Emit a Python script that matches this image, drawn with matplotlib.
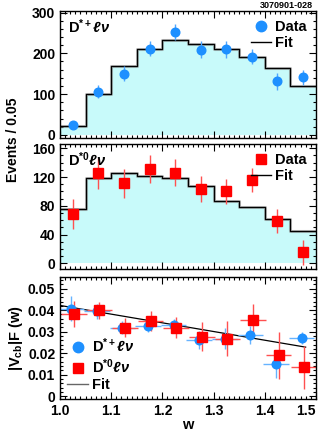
"""
B -> D* l nu yields and |Vcb|F(w) vs w
"""
import numpy as np
import matplotlib
matplotlib.use('Agg')
import matplotlib.pyplot as plt
from matplotlib.ticker import MultipleLocator
from matplotlib.lines import Line2D

plt.rcParams['font.family'] = ['Liberation Sans', 'DejaVu Sans']
plt.rcParams['font.weight'] = 'bold'
plt.rcParams['mathtext.fontset'] = 'custom'
plt.rcParams['mathtext.rm'] = 'Liberation Sans:bold'
plt.rcParams['mathtext.bf'] = 'Liberation Sans:bold'
plt.rcParams['mathtext.it'] = 'Liberation Sans:bold:italic'

# bins in w
bin_edges = [1.0, 1.05, 1.10, 1.15, 1.20, 1.25, 1.30, 1.35, 1.40, 1.45, 1.50]
bin_centers = [1.025, 1.075, 1.125, 1.175, 1.225, 1.275, 1.325, 1.375, 1.425, 1.475]

# D*+ l nu yields
dplus_fit = [23, 100, 168, 210, 233, 223, 210, 190, 164, 121]
dplus_data = [24, 106, 150, 211, 252, 209, 210, 192, 131, 141]
dplus_err = [8, 16, 18, 18, 20, 20, 21, 19, 20, 18]

# D*0 l nu yields
dzero_fit = [76, 118, 126, 121, 118, 107, 87, 78, 61, 45]
dzero_data = [68, 125, 111, 131, 126, 103, 100, 116, 59, 15]
dzero_err = [21, 21, 20, 20, 19, 18, 17, 17, 17, 18]

# |Vcb|F(w)
vcb_plus = [0.0407, 0.0396, 0.0319, 0.0325, 0.0333, 0.0262, 0.0268, 0.0285, 0.0150, 0.0270]
vcb_plus_err = [0.0058, 0.0035, 0.0030, 0.0028, 0.0028, 0.0042, 0.0050, 0.0042, 0.0065, 0.0028]
vcb_zero = [0.0381, 0.0399, 0.0319, 0.0350, 0.0319, 0.0276, 0.0268, 0.0356, 0.0190, 0.0135]
vcb_zero_err = [0.0060, 0.0040, 0.0045, 0.0048, 0.0050, 0.0068, 0.0080, 0.0075, 0.0110, 0.0100]
fit_w = [1.0, 1.48]
fit_vcb = [0.0422, 0.0228]

blue = '#1e90ff'
red = '#ff0000'
fill = '#c8fafa'
lab_plus = r'$\mathrm{D^{*+}}\ell\nu$'
lab_zero = r'$\mathrm{D^{*0}}\ell\nu$'

fig = plt.figure(figsize=(3.21, 4.36), dpi=100)
ax1 = fig.add_axes([0.187, 0.684, 0.797, 0.291])
ax2 = fig.add_axes([0.187, 0.383, 0.797, 0.286])
ax3 = fig.add_axes([0.187, 0.084, 0.797, 0.281])


def style(ax, major, minor):
    ax.set_xlim(1.0, 1.5)
    ax.xaxis.set_major_locator(MultipleLocator(0.1))
    ax.xaxis.set_minor_locator(MultipleLocator(0.01))
    ax.yaxis.set_major_locator(MultipleLocator(major))
    ax.yaxis.set_minor_locator(MultipleLocator(minor))
    ax.tick_params(which='both', direction='in', top=True, right=True, labelsize=10, width=0.8)
    ax.tick_params(which='major', length=5)
    ax.tick_params(which='minor', length=2.5)
    for s in ax.spines.values():
        s.set_linewidth(1.0)


def yield_panel(ax, fit, data, err, color, marker, ms, label, ecolor):
    vals = fit + [fit[-1]]
    ax.fill_between(bin_edges, vals, step='post', color=fill, lw=0)
    ax.step(bin_edges, vals, where='post', color='#888888', lw=2.2, alpha=0.6)
    ax.step(bin_edges, vals, where='post', color='black', lw=0.9)
    ax.errorbar(bin_centers, data, yerr=err, fmt=marker, color=color, ms=ms,
                ecolor=ecolor, elinewidth=1.0, capsize=0)
    ax.text(0.03, 0.95, label, transform=ax.transAxes, fontsize=10.5, va='top')
    handles = [Line2D([], [], ls='none', marker=marker, color=color, ms=7.5),
               Line2D([], [], color='black', lw=1.0)]
    ax.legend(handles, ['Data', 'Fit'], loc='upper right', frameon=False, fontsize=10.5,
              handlelength=1.4, handletextpad=0.3, borderaxespad=0.2, labelspacing=0.15)


yield_panel(ax1, dplus_fit, dplus_data, dplus_err, blue, 'o', 6.2, lab_plus, '#4da6ff')
ax1.set_ylim(-7, 304)
style(ax1, 100, 20)
ax1.tick_params(labelbottom=False)

yield_panel(ax2, dzero_fit, dzero_data, dzero_err, red, 's', 6.5, lab_zero, '#ff5050')
ax2.set_ylim(-8, 165.5)
style(ax2, 40, 10)
ax2.tick_params(labelbottom=False)

# bottom panel
ax3.plot(fit_w, fit_vcb, color='black', lw=0.9)
w_plus = np.array(bin_centers) - 0.003
w_zero = np.array(bin_centers) + 0.002
ax3.errorbar(w_plus, vcb_plus, xerr=0.025, yerr=vcb_plus_err, fmt='o', color=blue, ms=6.2,
             ecolor='#66b3ff', elinewidth=1.0, capsize=0)
ax3.errorbar(w_zero, vcb_zero, xerr=0.025, yerr=vcb_zero_err, fmt='s', color=red, ms=7,
             ecolor='#ff5050', elinewidth=1.0, capsize=0)
ax3.set_ylim(-0.0015, 0.0555)
style(ax3, 0.01, 0.002)
ax3.set_yticks([0, 0.01, 0.02, 0.03, 0.04, 0.05])
ax3.set_yticklabels(['0', '0.01', '0.02', '0.03', '0.04', '0.05'])
ax3.set_xticks([1.0, 1.1, 1.2, 1.3, 1.4, 1.5])
ax3.set_xticklabels(['1.0', '1.1', '1.2', '1.3', '1.4', '1.5'])
ax3.get_xticklabels()[-1].set_horizontalalignment('right')
handles = [Line2D([], [], ls='none', marker='o', color=blue, ms=7.5),
           Line2D([], [], ls='none', marker='s', color=red, ms=7.5),
           Line2D([], [], color='#666666', lw=1.0)]
ax3.legend(handles, [lab_plus, lab_zero, 'Fit'], loc='lower left', frameon=False,
           fontsize=10.5, handlelength=1.4, handletextpad=0.3, borderaxespad=0.1,
           labelspacing=0.15)
ax3.set_xlabel('w', fontsize=10.5, fontweight='bold', labelpad=0)
ax3.set_ylabel(r'$\mathrm{|V_{cb}|F\ (w)}$', fontsize=10.5, labelpad=2)

fig.text(0.04, 0.679, 'Events / 0.05', rotation=90, ha='center', va='center', fontsize=10)
fig.text(0.975, 0.997, '3070901-028', ha='right', va='top', fontsize=6.5)

fig.savefig('out.png', dpi=100)
